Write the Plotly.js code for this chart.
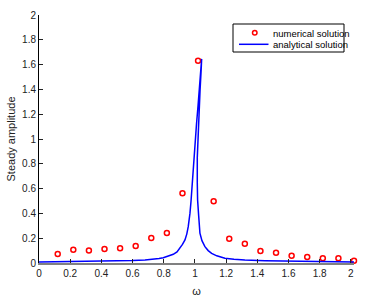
<!DOCTYPE html>
<html><head><meta charset="utf-8">
<script src="https://cdn.plot.ly/plotly-3.0.1.min.js"></script>
<style>html,body{margin:0;padding:0;background:#fff}#c{width:370px;height:302px}</style>
</head><body><div id="c"></div>
<script>
// numerical solution (red circles)
const numX = [0.12,0.22,0.32,0.42,0.52,0.62,0.72,0.82,0.92,1.02,1.12,1.22,1.32,1.42,1.52,1.62,1.72,1.82,1.92,2.02];
const numY = [0.073,0.107,0.100,0.113,0.119,0.137,0.202,0.242,0.563,1.632,0.498,0.196,0.156,0.097,0.083,0.059,0.048,0.038,0.038,0.019];
// analytical solution (blue line), points in drawing order
const anaX = [0,0.1,0.2,0.3,0.4,0.52,0.6,0.68,0.733,0.77,0.797,0.83,0.861,0.885,0.904,0.92,0.936,0.948,0.957,0.963,0.968,0.975,0.985,0.998,1.01,1.02,1.03,1.038,1.043,1.04,1.033,1.025,1.018,1.015,1.015,1.017,1.024,1.032,1.045,1.064,1.085,1.107,1.14,1.192,1.25,1.32,1.45,1.6,1.8,2.02];
const anaY = [0.008,0.009,0.010,0.011,0.013,0.016,0.020,0.025,0.030,0.036,0.043,0.054,0.070,0.09,0.119,0.15,0.186,0.235,0.293,0.345,0.40,0.5,0.7,0.95,1.12,1.27,1.42,1.56,1.646,1.56,1.4,1.2,1.0,0.85,0.65,0.51,0.38,0.24,0.18,0.132,0.1,0.078,0.058,0.038,0.03,0.024,0.019,0.015,0.012,0.009];
const xTicks = [0,0.2,0.4,0.6,0.8,1,1.2,1.4,1.6,1.8,2];
const yTicks = [0,0.2,0.4,0.6,0.8,1,1.2,1.4,1.6,1.8,2];
const legendNames = ['numerical solution','analytical solution'];

const L=39, R=16, T=15, B=39, W=370, H=302;
const pw = W-L-R, ph = H-T-B;
const px = v => (v-L)/pw, py = v => (H-B-v)/ph;

const traces = [
  {x:numX, y:numY, mode:'markers', type:'scatter', name:legendNames[0], showlegend:false,
   marker:{symbol:'circle-open', size:5, color:'#ff0000', line:{width:1.5, color:'#ff0000'}}, cliponaxis:false},
  {x:anaX, y:anaY, mode:'lines', type:'scatter', name:legendNames[1], showlegend:false,
   line:{color:'#0000ff', width:1.5}}
];
const tickFont = {family:'Liberation Sans, Arial, sans-serif', size:10, color:'#222'};
const layout = {
  width:W, height:H,
  margin:{l:L, r:R, t:T, b:B},
  paper_bgcolor:'#fff', plot_bgcolor:'#fff',
  font:tickFont,
  showlegend:false,
  xaxis:{range:[0,2.02], tickvals:xTicks, ticktext:xTicks.map(String), ticks:'inside', ticklen:4, tickcolor:'#222',
         showline:true, linecolor:'#808080', linewidth:2, mirror:false, showgrid:false, zeroline:false,
         title:{text:'ω', font:{size:11}, standoff:9}},
  xaxis2:{overlaying:'x', matches:'x', side:'top', range:[0,2.02], tickvals:xTicks, showticklabels:false, ticks:'inside', ticklen:4,
          tickcolor:'#222', showline:true, linecolor:'#000', linewidth:1, showgrid:false, zeroline:false},
  yaxis:{range:[0,2], tickvals:yTicks, ticktext:yTicks.map(String), ticks:'inside', ticklen:4, tickcolor:'#222',
         showline:true, linecolor:'#000', linewidth:1, mirror:false, showgrid:false, zeroline:false,
         title:{text:'Steady amplitude', font:{size:11}, standoff:4}},
  yaxis2:{overlaying:'y', matches:'y', side:'right', range:[0,2], tickvals:yTicks, showticklabels:false, ticks:'inside', ticklen:4,
          tickcolor:'#222', showline:true, linecolor:'#808080', linewidth:2, showgrid:false, zeroline:false},
  shapes:[
    {type:'rect', xref:'paper', yref:'paper', x0:px(233), x1:px(344), y0:py(52), y1:py(24),
     line:{color:'#000', width:1}, fillcolor:'#fff', layer:'above'},
    {type:'circle', xref:'paper', yref:'paper', x0:px(252.5), x1:px(257), y0:py(35), y1:py(30.5),
     line:{color:'#ff0000', width:1.5}, layer:'above'},
    {type:'line', xref:'paper', yref:'paper', x0:px(239), x1:px(268.5), y0:py(44.3), y1:py(44.3),
     line:{color:'#0000ff', width:1.5}, layer:'above'}
  ],
  annotations:[
    {xref:'paper', yref:'paper', x:px(271), y:py(33), xanchor:'left', yanchor:'middle', showarrow:false,
     text:legendNames[0], font:{size:9.5, color:'#000'}},
    {xref:'paper', yref:'paper', x:px(271), y:py(44.5), xanchor:'left', yanchor:'middle', showarrow:false,
     text:legendNames[1], font:{size:9.5, color:'#000'}}
  ]
};
Plotly.newPlot('c', traces, layout, {displayModeBar:false, staticPlot:true});
</script></body></html>
